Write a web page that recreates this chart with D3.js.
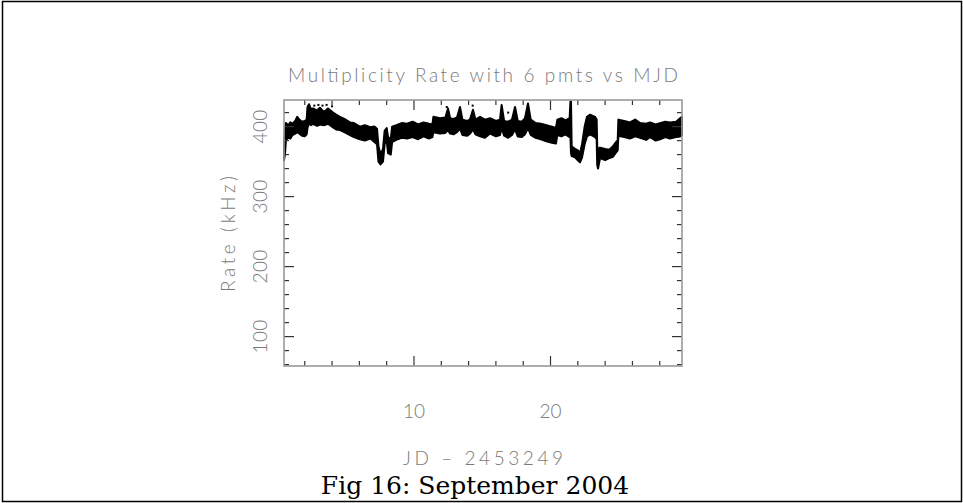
<!DOCTYPE html>
<html><head><meta charset="utf-8">
<script src="https://cdn.jsdelivr.net/npm/d3@7"></script>
<style>body{margin:0;background:#fff}svg{display:block}</style>
</head><body>
<script>
// ---- data ----
const title = "Multiplicity Rate with 6 pmts vs MJD";
const xLabel = "JD \u2013 2453249";
const yLabel = "Rate (kHz)";
const caption = "Fig 16: September 2004";
const xTicksMajor = [10, 20];
const yTicksMajor = [100, 200, 300, 400];
// band of the dense point cloud: day, lower rate, upper rate
const day = [0.48,0.55,0.62,0.80,0.95,1.10,1.30,1.45,1.60,1.80,2.00,2.14,2.20,2.31,2.45,2.60,2.90,3.11,3.40,3.70,4.07,4.30,4.58,4.90,5.31,5.60,6.04,6.40,6.80,7.10,7.29,7.40,7.55,7.73,7.85,8.00,8.10,8.30,8.40,8.70,9.10,9.50,9.90,10.30,10.70,11.10,11.35,11.42,11.90,12.30,12.49,12.65,12.90,13.15,13.37,13.55,13.90,14.10,14.32,14.50,14.84,15.20,15.57,16.00,16.30,16.42,16.60,16.90,17.18,17.40,17.60,17.90,18.13,18.35,18.55,18.90,19.30,19.70,20.10,20.40,20.50,20.80,21.10,21.40,21.46,21.50,21.55,21.80,22.00,22.16,22.31,22.50,22.67,22.90,23.26,23.38,23.42,23.48,23.63,24.00,24.30,24.58,24.80,24.92,24.97,25.40,25.82,26.20,26.56,27.00,27.29,27.70,28.02,28.40,28.75,29.20,29.49,29.63];
const rateLow = [352,360,381,384,383,388,390,392,390,387,386,389,398,405,402,404,401,403,402,404,399,396,395,392,388,385,382,380,383,378,375,350,346,350,375,380,362,360,378,381,384,383,385,382,386,383,385,392,390,391,395,390,389,392,397,388,387,390,396,389,386,384,390,386,388,398,387,384,388,396,386,385,389,398,388,384,382,379,377,376,388,386,389,385,385,362,358,356,352,349,356,375,386,389,385,382,345,340,355,352,355,357,363,366,387,385,383,386,384,381,385,380,382,385,383,385,386,388];
const rateHigh = [372,395,405,402,406,404,408,414,410,407,408,410,428,432,425,426,423,427,421,426,420,417,414,411,406,405,400,402,399,400,397,372,360,368,394,398,385,382,400,402,405,404,407,403,406,404,403,414,412,413,426,412,411,413,428,410,408,410,424,410,414,410,412,408,410,431,408,407,410,428,408,407,412,433,410,405,404,402,400,398,410,412,409,412,436,436,372,368,366,362,375,400,414,417,414,410,372,368,370,368,367,372,378,380,410,408,406,410,405,404,406,403,405,407,406,407,412,414];
// isolated points above the band
const outDay = [2.7,3.0,3.3,3.6,4.0,12.4,14.3,16.9,25.0];
const outRate = [430,431,430,431,429,428,430,420,392];

// ---- layout ----
const W = 963, H = 503;
const L = 284, R = 682, T = 100, B = 366;
const svg = d3.select("body").append("svg").attr("width", W).attr("height", H);
const x = d3.scaleLinear().domain([0.48, 29.63]).range([L, R]);
const y = d3.scaleLinear().domain([58, 438]).range([B, T]);

// outer border
svg.append("rect").attr("x", 2.5).attr("y", 1.5).attr("width", 959).attr("height", 500)
  .attr("fill", "none").attr("stroke", "#000").attr("stroke-width", 1.5);

// data band
const area = d3.area().x((d, i) => x(day[i])).y0((d, i) => y(rateLow[i])).y1((d, i) => y(rateHigh[i]));
svg.append("path").datum(day).attr("d", area).attr("fill", "#000").attr("stroke", "#000")
  .attr("stroke-width", 2).attr("stroke-linejoin", "round");
svg.selectAll("rect.out").data(outDay).join("rect").attr("class", "out")
  .attr("x", (d) => x(d) - 1).attr("y", (d, i) => y(outRate[i]) - 1).attr("width", 2).attr("height", 2).attr("fill", "#000");

// frame + ticks
const g = svg.append("g");
const tickCol = "#333", frameCol = "#999";
const xMinor = d3.range(2, 30, 2), yMinor = d3.range(60, 440, 20);
const tk = [];
xMinor.forEach(v => { const big = xTicksMajor.includes(v); const len = big ? 10 : 5;
  tk.push([x(v), B, x(v), B - len]); tk.push([x(v), T, x(v), T + len]); });
yMinor.forEach(v => { const big = yTicksMajor.includes(v); const len = big ? 10 : 5;
  tk.push([L, y(v), L + len, y(v)]); tk.push([R, y(v), R - len, y(v)]); });
g.selectAll("line").data(tk).join("line")
  .attr("x1", d => d[0]).attr("y1", d => d[1]).attr("x2", d => d[2]).attr("y2", d => d[3])
  .attr("stroke", tickCol).attr("stroke-width", 1.2);
svg.append("rect").attr("x", L).attr("y", T).attr("width", R - L).attr("height", B - T)
  .attr("fill", "none").attr("stroke", frameCol).attr("stroke-width", 1.6);

// texts
const tf = "Lato, 'Open Sans', sans-serif";
const txtCol = "#7a7a7a";
function txt(sel, size, len) {
  return sel.attr("font-family", tf).attr("font-weight", 300).attr("font-size", size).attr("fill", txtCol)
    .attr("textLength", len).attr("lengthAdjust", "spacing");
}
txt(svg.append("text").attr("x", 483).attr("y", 82).attr("text-anchor", "middle"), 19, 390).text(title);
txt(svg.selectAll("text.xt").data(xTicksMajor).join("text").attr("class", "xt")
  .attr("x", d => x(d)).attr("y", 418).attr("text-anchor", "middle"), 19, 22).text(d => d);
txt(svg.selectAll("text.yt").data(yTicksMajor).join("text").attr("class", "yt")
  .attr("transform", d => `translate(267,${y(d)}) rotate(-90)`).attr("text-anchor", "middle"), 19, 34).text(d => d);
txt(svg.append("text").attr("transform", "translate(235,234) rotate(-90)").attr("text-anchor", "middle"), 19, 116).text(yLabel);
txt(svg.append("text").attr("x", 483).attr("y", 465).attr("text-anchor", "middle"), 19, 160).text(xLabel);
svg.append("text").attr("x", 475).attr("y", 494).attr("text-anchor", "middle")
  .attr("font-family", "'DejaVu Serif', serif").attr("font-size", 25).attr("fill", "#000").text(caption);
</script>
</body></html>
